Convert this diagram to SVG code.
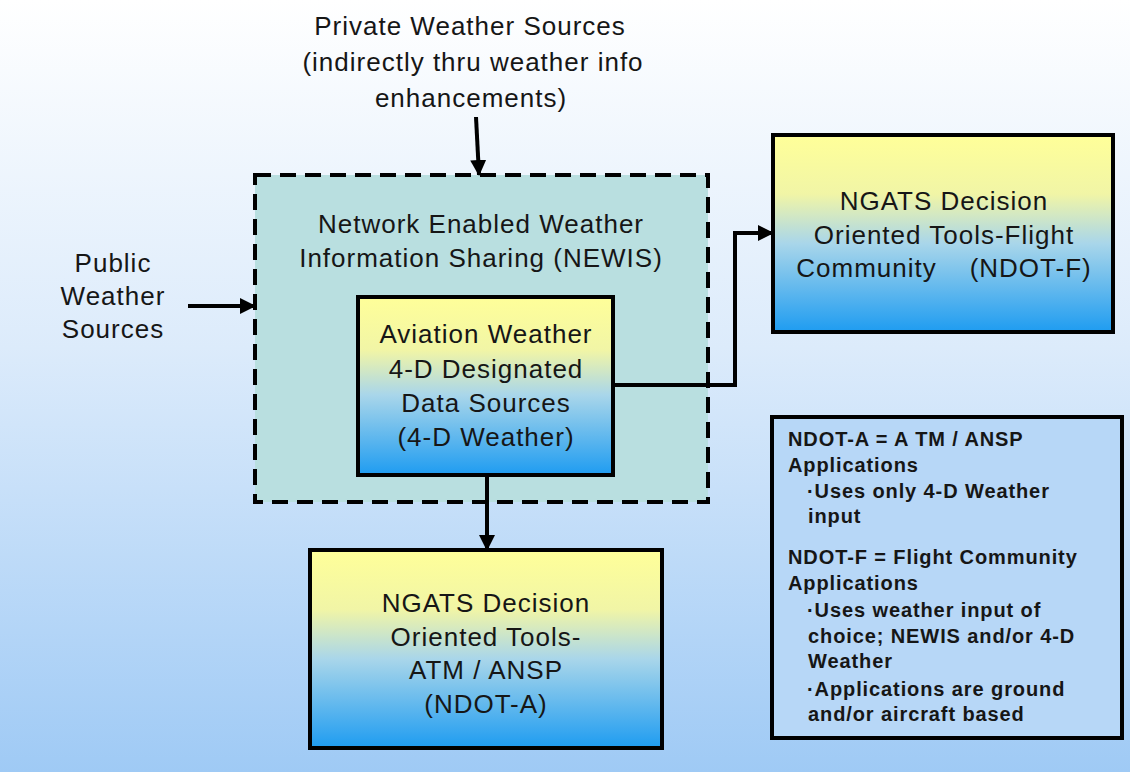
<svg xmlns="http://www.w3.org/2000/svg" width="1130" height="772" viewBox="0 0 1130 772">
  <defs>
    <linearGradient id="bg" x1="0" y1="0" x2="0" y2="1">
      <stop offset="0" stop-color="#ffffff"/>
      <stop offset="0.45" stop-color="#dcebfb"/>
      <stop offset="1" stop-color="#9fcaf5"/>
    </linearGradient>
    <linearGradient id="boxfill" x1="0" y1="0" x2="0" y2="1">
      <stop offset="0" stop-color="#ffff99"/>
      <stop offset="0.3" stop-color="#f1f5a6"/>
      <stop offset="0.55" stop-color="#a9d6ea"/>
      <stop offset="1" stop-color="#1e9cf1"/>
    </linearGradient>
    <marker id="arrow" viewBox="0 0 16 16" refX="15" refY="8" markerWidth="16" markerHeight="16" markerUnits="userSpaceOnUse" orient="auto">
      <path d="M0,0 L16,8 L0,16 Z" fill="#000"/>
    </marker>
    <style>
      .txt { font-family: "Liberation Sans", Arial, sans-serif; font-size: 26px; fill: #161616; text-anchor: middle; letter-spacing: 1px; }
      .leg { font-family: "Liberation Sans", Arial, sans-serif; font-size: 20px; font-weight: bold; fill: #161616; letter-spacing: 0.9px; }
      .box { fill: url(#boxfill); stroke: #000; stroke-width: 4; }
      .conn { fill: none; stroke: #000; stroke-width: 4; marker-end: url(#arrow); }
    </style>
  </defs>

  <rect x="0" y="0" width="1130" height="772" fill="url(#bg)"/>

  <!-- free-standing source labels -->
  <g id="private-sources">
    <text class="txt" x="470" y="35">Private Weather Sources</text>
    <text class="txt" x="473" y="71">(indirectly thru weather info</text>
    <text class="txt" x="471" y="107">enhancements)</text>
  </g>
  <g id="public-sources">
    <text class="txt" x="113" y="272">Public</text>
    <text class="txt" x="113" y="305">Weather</text>
    <text class="txt" x="113" y="338">Sources</text>
  </g>

  <!-- NEWIS container -->
  <g id="newis">
    <rect x="255" y="175" width="453" height="327" fill="#b9dfe0" stroke="#000" stroke-width="4" stroke-dasharray="16 9"/>
    <text class="txt" x="481" y="233">Network Enabled Weather</text>
    <text class="txt" x="481" y="267">Information Sharing (NEWIS)</text>
  </g>

  <!-- 4-D weather data sources -->
  <g id="four-d">
    <rect class="box" x="358" y="297" width="255" height="178"/>
    <text class="txt" x="486" y="343">Aviation Weather</text>
    <text class="txt" x="486" y="378">4-D Designated</text>
    <text class="txt" x="486" y="412">Data Sources</text>
    <text class="txt" x="486" y="446">(4-D Weather)</text>
  </g>

  <g id="ndot-f">
    <rect class="box" x="773" y="135" width="340" height="197"/>
    <text class="txt" x="944" y="210">NGATS Decision</text>
    <text class="txt" x="944" y="244">Oriented Tools-Flight</text>
    <text class="txt" x="944" y="277" xml:space="preserve">Community    (NDOT-F)</text>
  </g>

  <g id="ndot-a">
    <rect class="box" x="310" y="550" width="352" height="198"/>
    <text class="txt" x="486" y="612">NGATS Decision</text>
    <text class="txt" x="486" y="646">Oriented Tools-</text>
    <text class="txt" x="486" y="679">ATM / ANSP</text>
    <text class="txt" x="486" y="713">(NDOT-A)</text>
  </g>

  <g id="legend">
    <rect x="772" y="417" width="350" height="321" fill="#b7d7f7" stroke="#000" stroke-width="4"/>
    <text class="leg" x="788" y="446">NDOT-A = A TM / ANSP</text>
    <text class="leg" x="788" y="472">Applications</text>
    <text class="leg" x="807" y="498">·Uses only 4-D Weather</text>
    <text class="leg" x="808" y="523">input</text>
    <text class="leg" x="788" y="564">NDOT-F = Flight Community</text>
    <text class="leg" x="788" y="590">Applications</text>
    <text class="leg" x="807" y="617">·Uses weather input of</text>
    <text class="leg" x="808" y="643">choice; NEWIS and/or 4-D</text>
    <text class="leg" x="808" y="668">Weather</text>
    <text class="leg" x="807" y="696">·Applications are ground</text>
    <text class="leg" x="808" y="721">and/or aircraft based</text>
  </g>

  <g id="connectors">
    <path class="conn" d="M476,117 L479,175"/>
    <path class="conn" d="M188,306 L255,306"/>
    <path class="conn" d="M613,385 H735 V233 H773"/>
    <path class="conn" d="M487,475 V550"/>
  </g>
</svg>
